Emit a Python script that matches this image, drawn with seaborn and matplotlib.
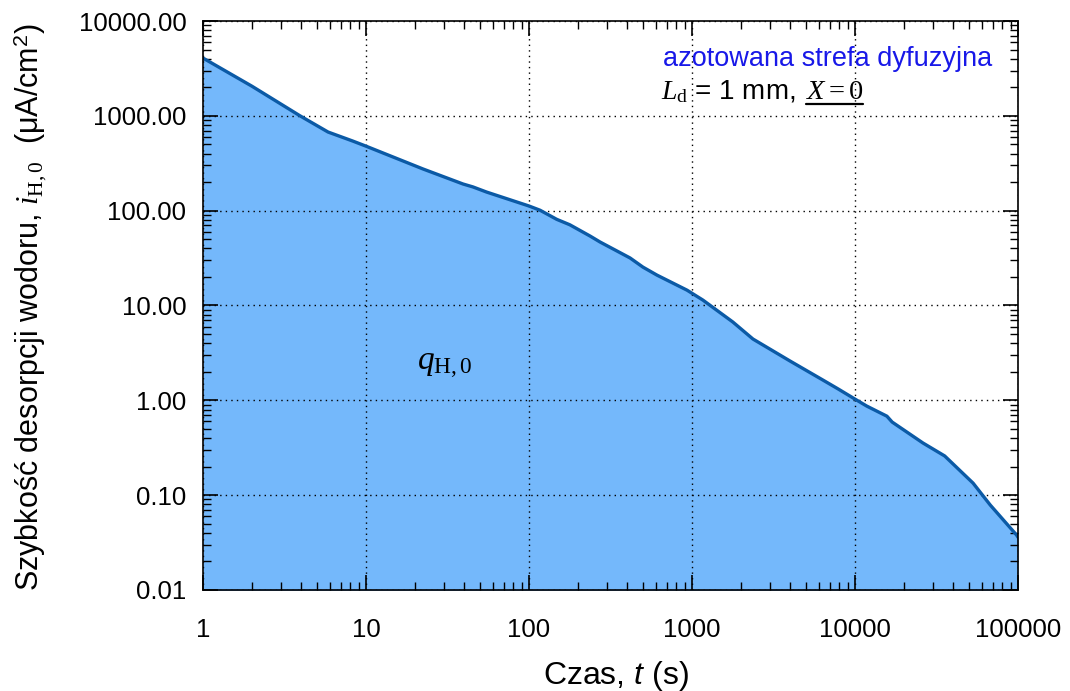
import matplotlib
matplotlib.use("Agg")
import matplotlib.pyplot as plt
import seaborn as sns
import pandas as pd
import numpy as np
from matplotlib.ticker import LogLocator, FixedLocator, FixedFormatter, NullFormatter

# Data
time_s = [1, 2, 3.94, 5.85, 8.3, 10, 22.4, 39.4, 45.3, 55, 100, 117, 148, 178, 237,
          273, 417, 500, 610, 933, 1167, 1780, 2366, 3990, 6340, 7870, 10000,
          11800, 15700, 16900, 26100, 35500, 53000, 67600, 98000, 100000]
rate = [4070, 2050, 1000, 675, 542, 479, 275, 191, 178, 157, 112, 101, 81, 71, 54,
        46.7, 31.7, 25.4, 20.9, 14.5, 11.4, 6.7, 4.43, 2.6, 1.64, 1.32, 1.03,
        0.87, 0.68, 0.59, 0.355, 0.259, 0.134, 0.0786, 0.038, 0.036]

x_ticks = [1, 10, 100, 1000, 10000, 100000]
x_labels = ["1", "10", "100", "1000", "10000", "100000"]
y_ticks = [0.01, 0.1, 1, 10, 100, 1000, 10000]
y_labels = ["0.01", "0.10", "1.00", "10.00", "100.00", "1000.00", "10000.00"]

df = pd.DataFrame({"t": time_s, "i": rate})

sns.set_theme(style="ticks")
plt.rcParams["font.family"] = ["Liberation Sans", "DejaVu Sans"]
plt.rcParams["mathtext.fontset"] = "custom"
plt.rcParams["mathtext.rm"] = "Liberation Serif"
plt.rcParams["mathtext.it"] = "Liberation Serif:italic"
plt.rcParams["mathtext.sf"] = "Liberation Sans"
plt.rcParams["mathtext.bf"] = "Liberation Sans:italic"
plt.rcParams["text.color"] = "black"
plt.rcParams["axes.labelcolor"] = "black"

fig = plt.figure(figsize=(10.70, 6.91), dpi=100)
ax = fig.add_axes([0.1897, 0.1462, 0.9514 - 0.1897, 0.9696 - 0.1462])

fill_color = "#74b8fb"
line_color = "#0b5aa6"

ax.fill_between(df["t"], df["i"], 1e-3, color=fill_color, linewidth=0, zorder=1)
sns.lineplot(data=df, x="t", y="i", ax=ax, color=line_color, linewidth=2.4, zorder=3)

ax.set_xscale("log")
ax.set_yscale("log")
ax.set_xlim(1, 100000)
ax.set_ylim(0.01, 10000)

ax.xaxis.set_major_locator(FixedLocator(x_ticks))
ax.xaxis.set_major_formatter(FixedFormatter(x_labels))
ax.yaxis.set_major_locator(FixedLocator(y_ticks))
ax.yaxis.set_major_formatter(FixedFormatter(y_labels))
ax.xaxis.set_minor_locator(LogLocator(base=10, subs=np.arange(2, 10), numticks=20))
ax.yaxis.set_minor_locator(LogLocator(base=10, subs=np.arange(2, 10), numticks=20))
ax.xaxis.set_minor_formatter(NullFormatter())
ax.yaxis.set_minor_formatter(NullFormatter())

ax.tick_params(which="both", direction="in", top=True, right=True, colors="black",
               labelcolor="black", labelsize=18.5)
ax.tick_params(which="major", length=11, width=1.2)
ax.tick_params(which="minor", length=6, width=1.0)
ax.tick_params(axis="x", which="major", pad=20)
ax.tick_params(axis="y", which="major", pad=12)

ax.grid(True, which="major", linestyle=(0, (1, 3)), color="black", linewidth=1.0, zorder=2)
ax.set_axisbelow(False)
for s in ax.spines.values():
    s.set_linewidth(1.2)
    s.set_color("black")
    s.set_zorder(6)

ax.set_xlabel(r"Czas, $\mathbf{t}$ (s)", fontsize=23, color="black")
ax.xaxis.set_label_coords(0.507, -0.121)

ax.set_ylabel(r"Szybkość desorpcji wodoru, $i_{\mathrm{H,0}}$  (μA/cm$^\mathsf{2}$)",
              fontsize=22, color="black")
ax.yaxis.set_label_coords(-0.189, 0.497)

ax.text(0.767, 0.933, "azotowana strefa dyfuzyjna", transform=ax.transAxes,
        fontsize=19.5, color="#1818e8", ha="center", va="center", zorder=7)
t1 = ax.text(0.562, 0.875, r"$L_{\mathrm{d}}$ = 1 mm,  ", transform=ax.transAxes,
             fontsize=20, color="black", ha="left", va="center", zorder=7)
fig.canvas.draw()
bb = t1.get_window_extent().transformed(ax.transAxes.inverted())
t2 = ax.text(bb.x1, 0.875, r"$X = 0$", transform=ax.transAxes, fontsize=20.5,
             color="black", ha="left", va="center", zorder=7)
fig.canvas.draw()
bb2 = t2.get_window_extent().transformed(ax.transAxes.inverted())
ax.plot([bb2.x0, bb2.x1], [bb2.y0 + 0.002, bb2.y0 + 0.002], transform=ax.transAxes,
        color="black", linewidth=1.6, zorder=7, clip_on=False)

ax.text(0.262, 0.395, r"$q_{\mathrm{H,0}}$", transform=ax.transAxes, fontsize=24,
        color="black", ha="left", va="center", zorder=7)

fig.savefig("out.png", dpi=100)
